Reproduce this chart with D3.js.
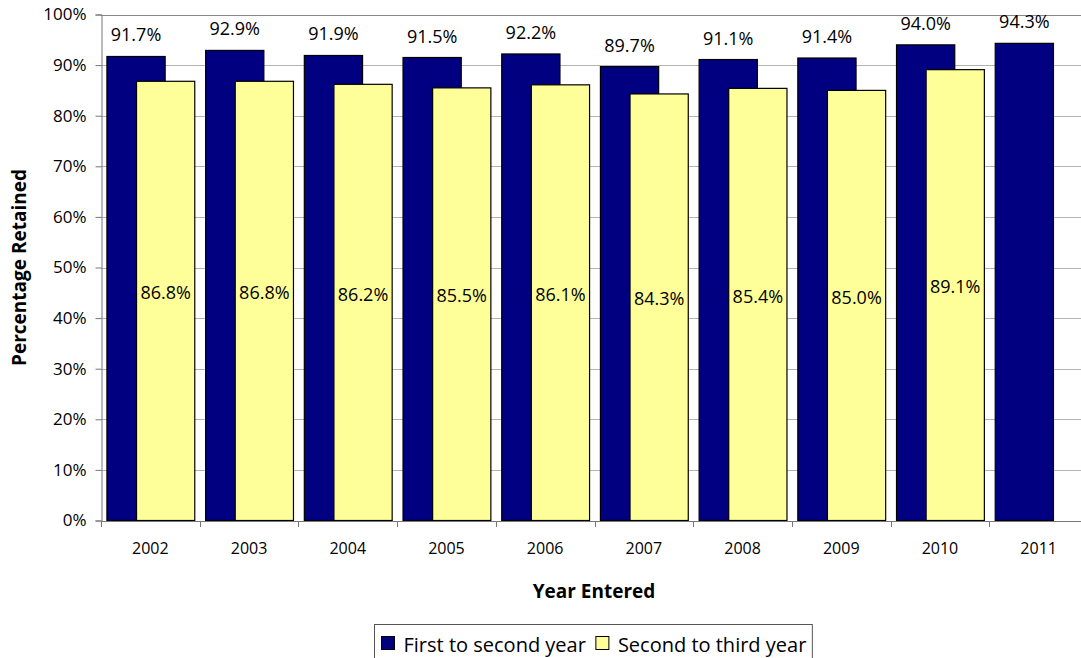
<!DOCTYPE html>
<html>
<head>
<meta charset="utf-8">
<script src="https://cdn.jsdelivr.net/npm/d3@7"></script>
<style>
  html, body { margin: 0; padding: 0; background: #fff; }
  svg { display: block; font-family: "Open Sans", "Noto Sans", sans-serif; }
</style>
</head>
<body>
<div id="chart"></div>
<script>
const years = ["2002", "2003", "2004", "2005", "2006", "2007", "2008", "2009", "2010", "2011"];
const firstToSecond = [91.7, 92.9, 91.9, 91.5, 92.2, 89.7, 91.1, 91.4, 94.0, 94.3];
const secondToThird = [86.8, 86.8, 86.2, 85.5, 86.1, 84.3, 85.4, 85.0, 89.1, null];
const yTicks = [0, 10, 20, 30, 40, 50, 60, 70, 80, 90, 100];
const seriesNames = ["First to second year", "Second to third year"];

const SIZE = { width: 1081, height: 658 };
const MARGIN = { left: 101, right: -7, top: 14.5, bottom: 137.5 };
const COLORS = ["#000080", "#ffff99"];

const svg = d3.select("#chart").append("svg")
  .attr("width", SIZE.width)
  .attr("height", SIZE.height);

const x = d3.scaleBand()
  .domain(years)
  .range([MARGIN.left, SIZE.width - MARGIN.right]);
const y = d3.scaleLinear()
  .domain([0, 100])
  .range([SIZE.height - MARGIN.bottom, MARGIN.top]);

const cw = x.bandwidth();
const barW = cw * 0.59;
const shift = cw * 0.30;
const pad = cw * 0.06;

// gridlines
svg.append("g").selectAll("line")
  .data(yTicks.slice(1))
  .join("line")
  .attr("x1", MARGIN.left).attr("x2", SIZE.width)
  .attr("y1", d => Math.round(y(d)) + 0.5).attr("y2", d => Math.round(y(d)) + 0.5)
  .attr("stroke", d => d === 100 ? "#888" : "#b3b3b3")
  .attr("stroke-width", 1);

// bars: first series behind, second in front
svg.append("g").selectAll("rect")
  .data(years.map((yr, i) => ({ yr, v: firstToSecond[i] })))
  .join("rect")
  .attr("x", d => x(d.yr) + pad)
  .attr("y", d => y(d.v))
  .attr("width", barW)
  .attr("height", d => y(0) - y(d.v))
  .attr("fill", COLORS[0])
  .attr("stroke", "#000")
  .attr("stroke-width", 1.2);

const secondData = years.map((yr, i) => ({ yr, v: secondToThird[i] })).filter(d => d.v != null);
svg.append("g").selectAll("rect")
  .data(secondData)
  .join("rect")
  .attr("x", d => x(d.yr) + pad + shift)
  .attr("y", d => y(d.v))
  .attr("width", barW)
  .attr("height", d => y(0) - y(d.v))
  .attr("fill", COLORS[1])
  .attr("stroke", "#000")
  .attr("stroke-width", 1.2);

// value labels
svg.append("g").selectAll("text")
  .data(years.map((yr, i) => ({ yr, v: firstToSecond[i] })))
  .join("text")
  .attr("x", d => x(d.yr) + pad + barW / 2)
  .attr("y", d => y(d.v) - 15)
  .attr("text-anchor", "middle")
  .attr("font-size", 18)
  .attr("fill", "#000")
  .text(d => d.v.toFixed(1) + "%");

svg.append("g").selectAll("text")
  .data(secondData)
  .join("text")
  .attr("x", d => x(d.yr) + pad + shift + barW / 2)
  .attr("y", d => y(d.v / 2 + 1.6))
  .attr("dy", "0.35em")
  .attr("text-anchor", "middle")
  .attr("font-size", 18)
  .attr("fill", "#000")
  .text(d => d.v.toFixed(1) + "%");

// y axis
const yAxis = svg.append("g")
  .attr("transform", `translate(${MARGIN.left + 0.5},0)`)
  .call(d3.axisLeft(y).tickValues(yTicks).tickFormat(d => d + "%").tickSize(6).tickPadding(9));
yAxis.select(".domain").attr("stroke", "#777");
yAxis.selectAll(".tick line").attr("stroke", "#777");
yAxis.selectAll("text").attr("font-size", 17).attr("fill", "#000").attr("font-family", "Open Sans");

// x axis
const xAxis = svg.append("g")
  .attr("transform", `translate(0,${y(0) + 0.5})`)
  .call(d3.axisBottom(x).tickSize(0).tickPadding(22));
xAxis.select(".domain").attr("stroke", "#777");
xAxis.selectAll("text").attr("font-size", 16).attr("fill", "#000").attr("font-family", "Open Sans");
xAxis.append("g").selectAll("line")
  .data(years)
  .join("line")
  .attr("x1", d => Math.round(x(d)) + 0.5).attr("x2", d => Math.round(x(d)) + 0.5)
  .attr("y1", 0).attr("y2", 6)
  .attr("stroke", "#777");

// axis titles
svg.append("text")
  .attr("transform", `translate(26,${(y(0) + y(100)) / 2}) rotate(-90)`)
  .attr("text-anchor", "middle")
  .attr("font-size", 19)
  .attr("font-weight", "bold")
  .text("Percentage Retained");

svg.append("text")
  .attr("x", 594)
  .attr("y", 598)
  .attr("text-anchor", "middle")
  .attr("font-size", 19)
  .attr("font-weight", "bold")
  .text("Year Entered");

// legend
const legend = svg.append("g").attr("transform", "translate(374.5,624.5)");
const legendBox = legend.append("rect")
  .attr("height", 50)
  .attr("fill", "#fff").attr("stroke", "#555");
let lx = 7;
seriesNames.forEach((name, i) => {
  legend.append("rect")
    .attr("x", lx).attr("y", 12)
    .attr("width", 13).attr("height", 13)
    .attr("fill", COLORS[i]).attr("stroke", "#000");
  const t = legend.append("text")
    .attr("x", lx + 22).attr("y", 27)
    .attr("font-size", 20)
    .text(name);
  lx += 22 + t.node().getComputedTextLength() + 10;
});
legendBox.attr("width", lx - 4);
</script>
</body>
</html>
